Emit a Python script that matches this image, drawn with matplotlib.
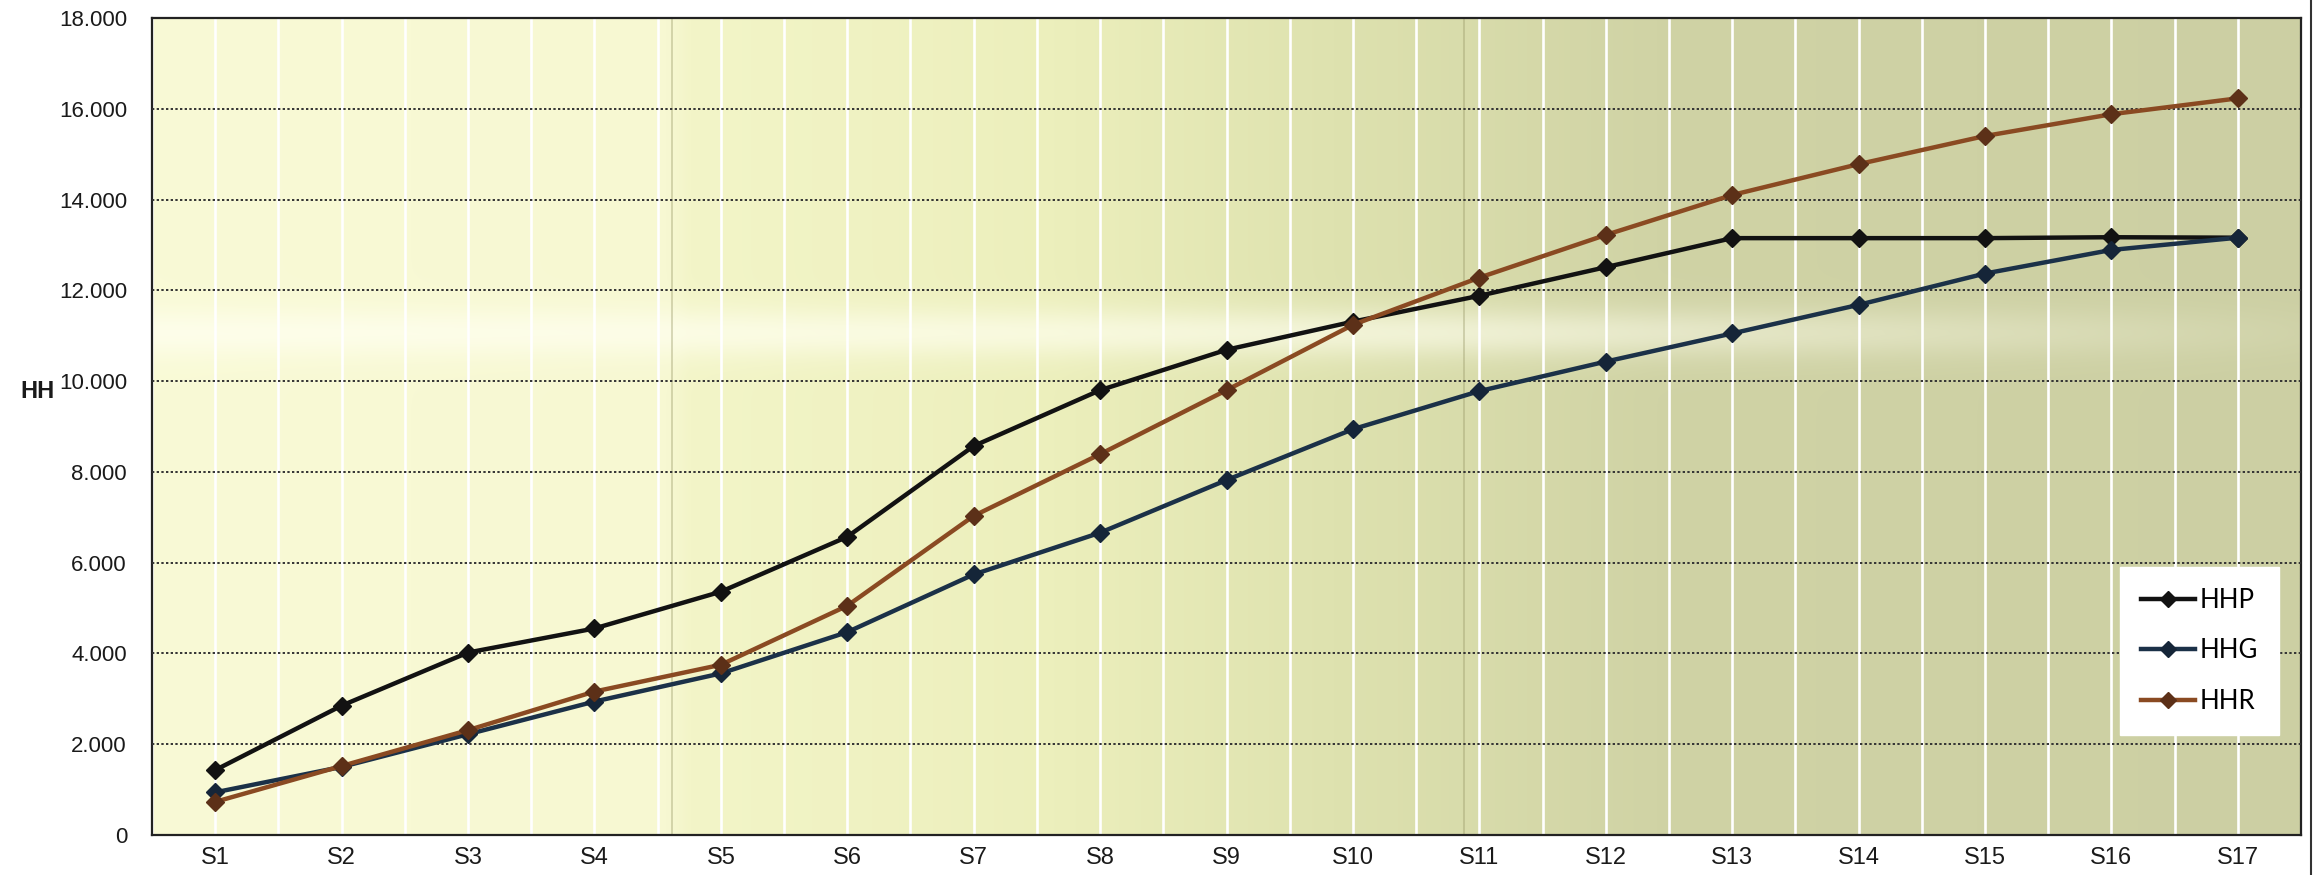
import numpy as np
import matplotlib
matplotlib.use("Agg")
import matplotlib.pyplot as plt
from matplotlib.ticker import FuncFormatter
from matplotlib.lines import Line2D

#### DATA
categories = ["S1", "S2", "S3", "S4", "S5", "S6", "S7", "S8", "S9",
              "S10", "S11", "S12", "S13", "S14", "S15", "S16", "S17"]
hhp = [1430, 2850, 4020, 4550, 5360, 6570, 8570, 9800, 10690, 11310,
       11880, 12510, 13150, 13150, 13150, 13170, 13160]
hhg = [940, 1500, 2220, 2940, 3560, 4470, 5740, 6660, 7820, 8940,
       9780, 10430, 11050, 11680, 12370, 12890, 13160]
hhr = [730, 1520, 2310, 3160, 3750, 5050, 7030, 8390, 9800, 11240,
       12280, 13220, 14100, 14780, 15400, 15880, 16230]
series_names = ["HHP", "HHG", "HHR"]
y_ticks = list(range(0, 18001, 2000))

#### STYLE
plt.rcParams['font.family'] = ['Liberation Sans', 'DejaVu Sans']
line_colors = ["#121212", "#1b3148", "#8a4a22"]
marker_colors = ["#121212", "#152538", "#5c3018"]

W, H = 2320, 875
fig = plt.figure(figsize=(W / 100, H / 100), dpi=100)
fig.patch.set_facecolor("white")
ax = fig.add_axes([152 / W, 1 - 835 / H, (2301 - 152) / W, (835 - 18) / H])

x = np.arange(len(categories))
ax.set_xlim(-0.5, len(categories) - 0.5)
ax.set_ylim(0, 18000)

#### BACKGROUND (scanned paper look: pale yellow on the left, greener grey to the right)
nx, ny = 600, 200
gx = np.linspace(0, 1, nx)
gy = np.linspace(0, 1, ny)
stops = [0.0, 0.24, 0.25, 0.42, 0.55, 0.70, 1.0]
r = np.interp(gx, stops, [249, 247, 243, 236, 222, 208, 204])
g = np.interp(gx, stops, [250, 248, 245, 239, 226, 211, 207])
b = np.interp(gx, stops, [214, 210, 200, 188, 175, 165, 163])
img = np.stack([np.tile(r, (ny, 1)), np.tile(g, (ny, 1)), np.tile(b, (ny, 1))], axis=-1)
# light horizontal band around 11.000
band = np.exp(-((gy - 0.615) / 0.03) ** 2)[:, None] * np.interp(gx, [0, 0.6, 0.9, 1], [1, 0.8, 0.3, 0.1])[None, :]
img = img + band[..., None] * (np.array([255, 255, 240]) - img) * 0.75
img = np.clip(img / 255.0, 0, 1)
ax.imshow(img, extent=[-0.5, len(categories) - 0.5, 0, 18000], aspect="auto",
          origin="lower", zorder=0, interpolation="bilinear")

# faint scan seams
for sx in [3.61, 9.88]:
    ax.axvline(sx, color="#9a9a6a", lw=1.2, alpha=0.45, zorder=1)

#### GRID
for gxl in np.arange(-0.5, len(categories) - 0.4, 0.5):
    ax.axvline(gxl, color="white", lw=1.9, zorder=2)
for yt in y_ticks[1:-1]:
    ax.axhline(yt, color="#333333", lw=1.4, ls=(0, (1.2, 1.2)), zorder=3)

#### LINES
for vals, name, lc, mc in zip([hhp, hhg, hhr], series_names, line_colors, marker_colors):
    ax.plot(x, vals, color=lc, lw=3.2, marker="D", ms=9.5,
            markerfacecolor=mc, markeredgecolor=mc, label=name, zorder=5)

#### AXES
for s in ax.spines.values():
    s.set_color("#222222")
    s.set_linewidth(1.6)
ax.spines["top"].set_linestyle((0, (2, 1)))
ax.set_xticks(x)
ax.set_xticklabels(categories, fontsize=17)
ax.set_yticks(y_ticks)
ax.yaxis.set_major_formatter(FuncFormatter(lambda v, p: f"{int(v):,}".replace(",", ".")))
ax.tick_params(axis="y", length=0, pad=18, labelsize=16, colors="#1a1a1a")
ax.tick_params(axis="x", length=0, pad=9, colors="#1a1a1a")

fig.text(37 / W, 1 - 392 / H, "HH", fontsize=17, fontweight="bold",
         ha="center", va="center", color="#1a1a1a")

# outer chart frame line at right
fig.add_artist(Line2D([2311 / W, 2311 / W], [0, 1], color="#333333", lw=1.5))

#### LEGEND
leg = ax.legend(loc="upper left", bbox_to_anchor=(2120 / W, 1 - 567 / H),
                bbox_transform=fig.transFigure, frameon=True, fancybox=False,
                prop={"family": ["Lato", "DejaVu Sans"], "size": 18.5},
                handlelength=2.1, handletextpad=0.2, labelspacing=1.0,
                borderpad=0.8, borderaxespad=0, numpoints=1, markerscale=0.85)
leg.get_frame().set_facecolor("white")
leg.get_frame().set_edgecolor("white")
leg.get_frame().set_alpha(1)
leg.set_zorder(10)

fig.savefig("out.png", dpi=100)
